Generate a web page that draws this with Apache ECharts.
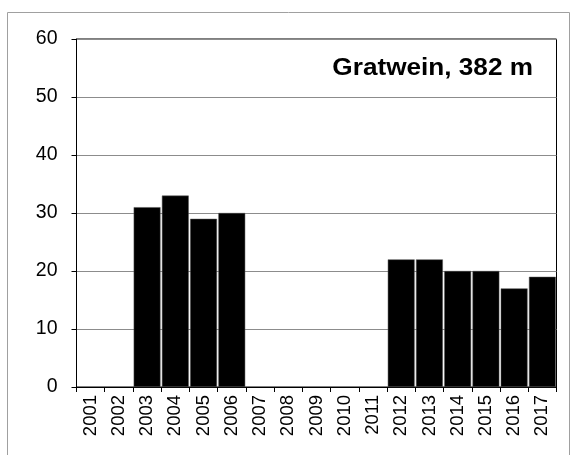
<!DOCTYPE html>
<html><head><meta charset="utf-8">
<script src="https://cdn.jsdelivr.net/npm/echarts@6/dist/echarts.min.js"></script>
<style>html,body{margin:0;padding:0;background:#fff}#c{width:577px;height:455px}</style>
</head><body><div id="c"></div>
<script>
const years = ['2001','2002','2003','2004','2005','2006','2007','2008','2009','2010','2011','2012','2013','2014','2015','2016','2017'];
const values = [null,null,31,33,29,30,null,null,null,null,null,22,22,20,20,17,19];
const yTicks = [0,10,20,30,40,50,60];
const titleText = 'Gratwein, 382 m';

const chart = echarts.init(document.getElementById('c'), null, {renderer:'canvas'});
chart.setOption({
  animation:false,
  backgroundColor:'#fff',
  graphic:[
    {type:'rect', shape:{x:7.5,y:12.5,width:562,height:460}, style:{fill:'none', stroke:'#a0a0a0', lineWidth:1}, silent:true},
    {type:'text', x:533, y:68, scaleX:1.09, z:10, style:{text:titleText, fill:'#000', font:'bold 24px "Liberation Sans", Arial, sans-serif', align:'right', verticalAlign:'middle'}}
  ],
  grid:{left:76.5, right:20.5, top:39, bottom:68, show:true, borderColor:'#000', borderWidth:1},
  xAxis:{type:'category', data:years, boundaryGap:true,
    axisLine:{lineStyle:{color:'#000', width:1}},
    axisTick:{show:true, length:5, lineStyle:{color:'#000'}},
    axisLabel:{rotate:90, interval:0, fontFamily:'Liberation Sans', fontSize:18.5, color:'#000', margin:8}},
  yAxis:{type:'value', min:yTicks[0], max:yTicks[yTicks.length-1], interval:10,
    axisLine:{show:true, lineStyle:{color:'#000'}},
    axisTick:{show:true, length:5, lineStyle:{color:'#000'}},
    axisLabel:{fontFamily:'Liberation Sans', fontSize:19.5, color:'#000', margin:19},
    splitLine:{lineStyle:{color:'#8c8c8c', width:1}}},
  series:[{type:'bar', data:values, barCategoryGap:'5%', itemStyle:{color:'#000', borderColor:'#555', borderWidth:0.5}}]
});
</script></body></html>
